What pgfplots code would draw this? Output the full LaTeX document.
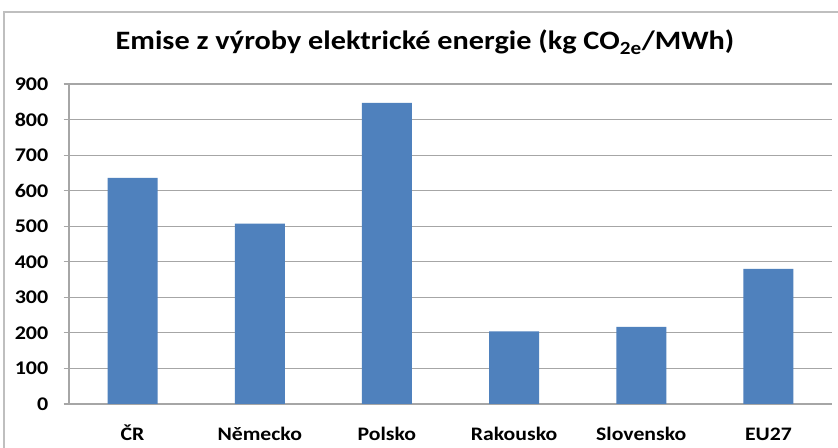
\documentclass[border=0pt]{standalone}
\usepackage{pgfplots}
\pgfplotsset{compat=1.18}
\usepackage{fontspec}
\setmainfont[FakeStretch=1.14]{Carlito}
\definecolor{barblue}{HTML}{4F81BD}
\definecolor{gridgray}{HTML}{A6A6A6}
\definecolor{framegray}{HTML}{BFBFBF}
\begin{document}
\begin{tikzpicture}
\useasboundingbox (0,0) rectangle (628.5pt,336pt);
\fill[white] (0,0) rectangle (628.5pt,336pt);
\draw[framegray, line width=0.8pt] (3pt,-2pt) -- (3pt,327pt) -- (640pt,327pt);
\node[font=\bfseries\fontsize{19.9}{24}\selectfont, anchor=base, inner sep=0pt] at (318.75pt,298.5pt)
  {Emise z výroby elektrické energie (kg CO\textsubscript{2e}/MWh)};
\begin{axis}[
  at={(51.75pt,33pt)}, anchor=south west,
  scale only axis, width=572.25pt, height=240pt,
  xmin=-0.5, xmax=5.5, ymin=0, ymax=900,
  ytick={0,100,...,900},
  xtick={0,1,2,3,4,5},
  xticklabels={ČR,Německo,Polsko,Rakousko,Slovensko,EU27},
  /pgf/number format/assume math mode=true,
  yticklabel style={font=\bfseries\fontsize{14.5}{17}\selectfont, xshift=-8pt},
  xticklabel style={font=\bfseries\fontsize{14.3}{17}\selectfont, anchor=base, inner sep=0pt, yshift=-23.5pt},
  ymajorgrids, major grid style={gridgray, line width=0.8pt},
  axis line style={gridgray, line width=0.8pt},
  axis x line*=bottom, axis y line*=left,
  ytick style={gridgray, line width=0.8pt},
  major tick length=4pt,
  xtick style={draw=none},
  tick align=outside,
  ybar, bar width=37.5pt,
]
\addplot[fill=barblue, draw=none] coordinates {(0,636) (1,507) (2,847) (3,204) (4,217) (5,380)};
\end{axis}
\end{tikzpicture}
\end{document}
